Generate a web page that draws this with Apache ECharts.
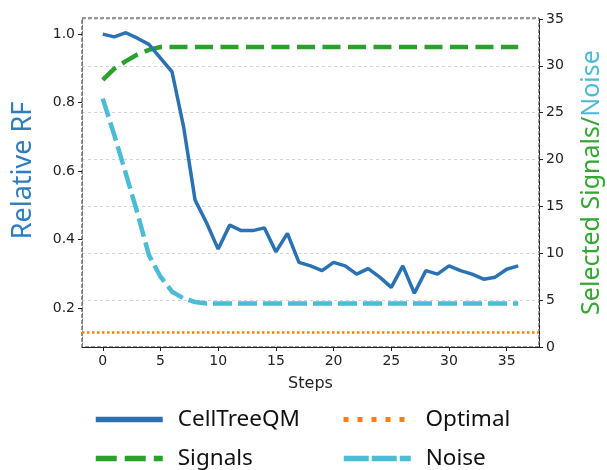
<!DOCTYPE html>
<html>
<head>
<meta charset="utf-8">
<script src="https://cdn.jsdelivr.net/npm/echarts@6/dist/echarts.min.js"></script>
<style>
  html, body { margin: 0; padding: 0; background: #fff; }
  #chart { width: 607px; height: 470px; }
</style>
</head>
<body>
<div id="chart"></div>
<script>
// values
const steps = [0, 1, 2, 3, 4, 5, 6, 7, 8, 9, 10, 11, 12, 13, 14, 15, 16, 17, 18,
    19, 20, 21, 22, 23, 24, 25, 26, 27, 28, 29, 30, 31, 32, 33, 34, 35, 36];
const relativeRF = [1.0, 0.992, 1.004, 0.988, 0.97, 0.93, 0.89, 0.73, 0.515, 0.448,
    0.372, 0.442, 0.426, 0.426, 0.434, 0.364, 0.418, 0.333, 0.323, 0.309, 0.333,
    0.323, 0.299, 0.315, 0.29, 0.26, 0.323, 0.243, 0.309, 0.299, 0.323, 0.309,
    0.299, 0.284, 0.29, 0.313, 0.323];
const signals = [28.5, 29.7, 30.5, 31.2, 31.7, 32, 32, 32, 32, 32, 32, 32, 32, 32,
    32, 32, 32, 32, 32, 32, 32, 32, 32, 32, 32, 32, 32, 32, 32, 32, 32, 32, 32,
    32, 32, 32, 32];
const noise = [26.5, 22.6, 18.5, 14.3, 9.8, 7.5, 5.9, 5.2, 4.8, 4.65, 4.65, 4.65,
    4.65, 4.65, 4.65, 4.65, 4.65, 4.65, 4.65, 4.65, 4.65, 4.65, 4.65, 4.65, 4.65,
    4.65, 4.65, 4.65, 4.65, 4.65, 4.65, 4.65, 4.65, 4.65, 4.65, 4.65, 4.65];
const optimalRF = 0.131;
const xTicks = [0, 5, 10, 15, 20, 25, 30, 35];
const rfTicks = [0.2, 0.4, 0.6, 0.8, 1.0];
const countTicks = [0, 5, 10, 15, 20, 25, 30, 35];

const tickFont = { fontFamily: 'DejaVu Sans', fontSize: 14, color: '#222' };
const legendFont = { fontFamily: 'Noto Sans', fontSize: 22.5, color: '#111', padding: [0, 0, 0, 10] };

const chart = echarts.init(document.getElementById('chart'), null, { renderer: 'canvas' });

function pair(xs, ys) {
    return xs.map((x, i) => [x, ys[i]]);
}

chart.setOption({
    animation: false,
    grid: {
        left: 82, right: 68, top: 18, bottom: 123,
        outerBoundsMode: 'none',
        show: true, borderColor: '#333', borderWidth: 1, borderType: [4, 2]
    },
    legend: [
        { data: ['CellTreeQM'], left: 93, top: 408, lineStyle: { width: 5.5 } },
        { data: ['Optimal'], left: 341, top: 408, lineStyle: { width: 5, type: [5, 9] } },
        { data: ['Signals'], left: 93, top: 447, lineStyle: { width: 5.5, type: [21, 8] } },
        { data: ['Noise'], left: 341, top: 447, lineStyle: { width: 5.5, type: [25, 3] } }
    ].map(l => Object.assign({
        itemWidth: 67, itemHeight: 24, textStyle: legendFont, padding: 0,
        itemStyle: { opacity: 0 }
    }, l)),
    xAxis: {
        type: 'value', min: -1.8, max: 37.8,
        name: 'Steps', nameLocation: 'middle', nameGap: 29,
        nameTextStyle: { fontFamily: 'DejaVu Sans', fontSize: 16, color: '#222' },
        axisLine: { onZero: false, lineStyle: { color: '#222', width: 1.2 } },
        axisTick: { customValues: xTicks, length: 4, lineStyle: { color: '#222' } },
        axisLabel: Object.assign({ customValues: xTicks, margin: 7 }, tickFont),
        splitLine: { show: false }
    },
    yAxis: [
        {
            type: 'value', min: 0.086, max: 1.047, position: 'left',
            name: 'Relative RF', nameLocation: 'middle', nameRotate: 90, nameGap: 45,
            nameTextStyle: { fontFamily: 'Noto Sans', fontSize: 27, color: '#2e7dbf', padding: [0, 0, 0, 24] },
            axisLine: { show: true, onZero: false, lineStyle: { color: '#777', type: [4, 2] } },
            axisTick: { customValues: rfTicks, length: 4, lineStyle: { color: '#222' } },
            axisLabel: Object.assign({
                customValues: rfTicks, margin: 7,
                formatter: v => v.toFixed(1)
            }, tickFont),
            splitLine: { show: false }
        },
        {
            type: 'value', min: 0, max: 35.1, position: 'right',
            name: '{s|Selected Signals/}{n|Noise}', nameLocation: 'middle', nameRotate: 90, nameGap: 40,
            nameTextStyle: {
                fontFamily: 'Noto Sans', fontSize: 25,
                rich: {
                    s: { fontFamily: 'Noto Sans', fontSize: 25, color: '#35a534' },
                    n: { fontFamily: 'Noto Sans', fontSize: 25, color: '#4cbad6' }
                }
            },
            axisLine: { show: true, onZero: false, lineStyle: { color: '#222', type: [4, 2] } },
            axisTick: { customValues: countTicks, length: 4, lineStyle: { color: '#222' } },
            axisLabel: Object.assign({ customValues: countTicks, margin: 7 }, tickFont),
            splitLine: { show: true, lineStyle: { color: '#d4d4d4', type: [3, 3], width: 1 } }
        }
    ],
    series: [
        {
            name: 'CellTreeQM', type: 'line', yAxisIndex: 0, z: 5,
            data: pair(steps, relativeRF), symbol: 'none',
            lineStyle: { color: '#2a72b2', width: 3.5 }, itemStyle: { color: '#2a72b2' }
        },
        {
            name: 'Optimal', type: 'line', yAxisIndex: 0, data: [], symbol: 'none',
            lineStyle: { color: '#ff7f0e', width: 5, type: [5, 9] }, itemStyle: { color: '#ff7f0e' },
            markLine: {
                silent: true, symbol: 'none', label: { show: false },
                lineStyle: { color: '#ff7f0e', width: 2.5, type: [2.5, 2.5] },
                data: [{ yAxis: optimalRF }]
            }
        },
        {
            name: 'Signals', type: 'line', yAxisIndex: 1, z: 4,
            data: pair(steps, signals), symbol: 'none',
            lineStyle: { color: '#2ca02c', width: 4.5, type: [18, 7.5] }, itemStyle: { color: '#2ca02c' }
        },
        {
            name: 'Noise', type: 'line', yAxisIndex: 1, z: 3,
            data: pair(steps, noise), symbol: 'none',
            lineStyle: { color: '#4bbbd6', width: 4.5, type: [19, 6] }, itemStyle: { color: '#4bbbd6' }
        }
    ]
});
</script>
</body>
</html>
